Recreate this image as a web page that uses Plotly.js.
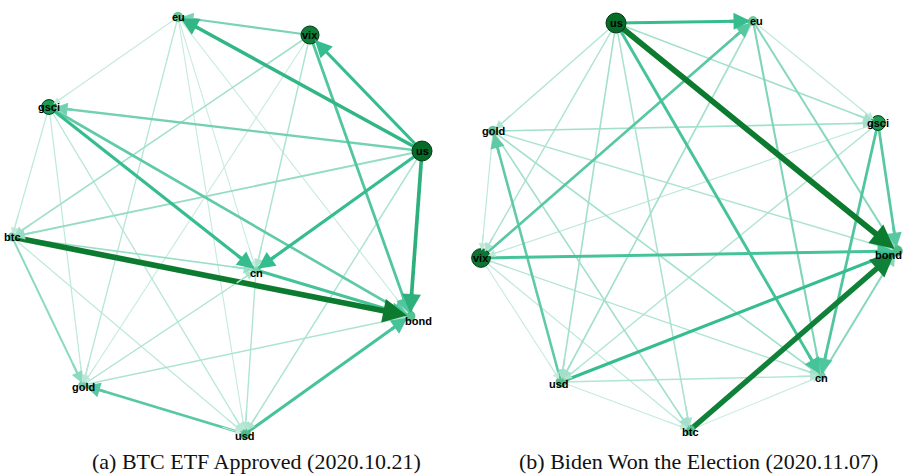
<!DOCTYPE html>
<html><head><meta charset="utf-8">
<script src="https://cdn.plot.ly/plotly-3.0.1.min.js"></script>
<style>html,body{margin:0;padding:0;background:#fff;}#chart{width:907px;height:476px;}</style>
</head><body><div id="chart"></div>
<script>
// ---------- data: graph (a) BTC ETF Approved ----------
const nodesA    = ['eu','vix','gsci','us','btc','cn','bond','gold','usd'];
const strengthA = [0.2, 0.85, 0.6, 1.0, 0.1, 0.1, 0.25, 0.12, 0.3];
const srcA = ['btc','us','us','us','us','gsci','vix','usd','cn','usd','gsci','us','vix','btc','btc','us','vix','vix','gold','gold','cn','us','gsci','gsci','gsci','eu','eu','eu','eu','btc','eu','vix','gold'];
const tgtA = ['bond','bond','eu','vix','cn','cn','bond','bond','bond','gold','bond','gsci','eu','gold','cn','btc','btc','cn','bond','cn','usd','usd','btc','gold','usd','gsci','gold','bond','usd','usd','cn','gold','usd'];
const wA   = [1.0,0.6,0.55,0.5,0.5,0.5,0.42,0.45,0.45,0.4,0.38,0.32,0.3,0.25,0.2,0.22,0.18,0.15,0.15,0.15,0.14,0.15,0.1,0.1,0.12,0.08,0.12,0.08,0.08,0.1,0.07,0.08,0.06];

// ---------- data: graph (b) Biden Won the Election ----------
const nodesB    = ['us','eu','gsci','gold','vix','bond','usd','cn','btc'];
const strengthB = [1.0, 0.15, 0.6, 0.2, 0.9, 0.3, 0.25, 0.12, 0.25];
const srcB = ['us','btc','us','us','vix','usd','vix','gsci','gsci','usd','eu','eu','cn','us','gold','gold','gold','gold','us','us','us','us','eu','eu','gsci','gsci','vix','vix','vix','gold','usd','usd','btc'];
const tgtB = ['bond','bond','eu','cn','bond','bond','eu','cn','bond','gold','cn','bond','bond','gsci','gsci','bond','cn','btc','gold','vix','usd','btc','usd','gsci','usd','vix','cn','usd','btc','vix','cn','btc','cn'];
const wB   = [1.0,0.95,0.5,0.45,0.45,0.5,0.4,0.42,0.4,0.38,0.28,0.26,0.26,0.18,0.18,0.15,0.18,0.18,0.14,0.15,0.18,0.16,0.18,0.1,0.14,0.1,0.14,0.08,0.1,0.1,0.14,0.08,0.07];

const captionA = '(a) BTC ETF Approved (2020.10.21)';
const captionB = '(b) Biden Won the Election (2020.11.07)';

// ---------- layout positions (pixel-like coords, y downward) ----------
const posA = {eu:[178,17], vix:[310,35], gsci:[49,107], us:[422,151], btc:[12,237], cn:[256,270], bond:[410,316], gold:[83,385], usd:[245,434]};
const posB = {us:[616,23], eu:[753,21], gsci:[878,123], gold:[493,131], vix:[481,258], bond:[897,251], usd:[561,382], cn:[821,376], btc:[690,430]};
const labelShiftA = {bond:[8,-5], cn:[0,-3], gold:[0,-2], usd:[0,-2]};
const labelShiftB = {bond:[-9,-4], eu:[3,0], cn:[0,-2], btc:[0,-2], usd:[-2,-2]};

function lerp(a,b,t){return a+(b-a)*t;}
function hex(c){return [parseInt(c.slice(1,3),16),parseInt(c.slice(3,5),16),parseInt(c.slice(5,7),16)];}
function mix(c1,c2,t){const a=hex(c1),b=hex(c2);return 'rgb('+a.map((v,i)=>Math.round(lerp(v,b[i],t))).join(',')+')';}
function edgeColor(w){
  if(w<=0.5) return mix('#dff4ec','#36bd8f',w/0.5);
  return mix('#36bd8f','#0c7a2f',(w-0.5)/0.5);
}
function edgeWidth(w){return 0.7+5.0*w;}
function nodeColor(s){
  if(s<=0.5) return mix('#8edcbd','#1fa85e',s/0.5);
  return mix('#1fa85e','#066a28',(s-0.5)/0.5);
}
function nodeSize(s){return 7+13*s;}

const traces=[]; const arrowAnn=[]; const labelAnn=[];
function buildGraph(nodes,strength,src,tgt,w,pos,shift){
  const idx=w.map((_,i)=>i).sort((a,b)=>w[a]-w[b]);
  const radius={};
  nodes.forEach((n,i)=>radius[n]=nodeSize(strength[i])/2);
  idx.forEach(i=>{
    const s=pos[src[i]], t=pos[tgt[i]];
    const col=edgeColor(w[i]), wd=edgeWidth(w[i]);
    traces.push({type:'scatter',mode:'lines',x:[s[0],t[0]],y:[s[1],t[1]],
      line:{color:col,width:wd},hoverinfo:'skip',showlegend:false});
    const dx=t[0]-s[0], dy=t[1]-s[1], L=Math.hypot(dx,dy);
    const seg=Math.min(25,L*0.3);
    arrowAnn.push({x:t[0],y:t[1],ax:t[0]-dx/L*seg,ay:t[1]-dy/L*seg,
      xref:'x',yref:'y',axref:'x',ayref:'y',text:'',showarrow:true,
      arrowhead:2,arrowsize:Math.max(0.8,1.35-0.09*wd),arrowwidth:wd,arrowcolor:col,
      standoff:Math.max(radius[tgt[i]]-2,1)});
  });
  traces.push({type:'scatter',mode:'markers',
    x:nodes.map(n=>pos[n][0]),y:nodes.map(n=>pos[n][1]),
    marker:{size:strength.map(nodeSize),color:strength.map(nodeColor),opacity:1,
      line:{color:strength.map(s=>s>0.5?'#053a15':'rgba(60,150,110,0.4)'),width:1}},
    hoverinfo:'skip',showlegend:false,cliponaxis:false});
  nodes.forEach(n=>{
    const sh=shift[n]||[0,0];
    labelAnn.push({x:pos[n][0],y:pos[n][1],xref:'x',yref:'y',text:'<b>'+n+'</b>',
      showarrow:false,xshift:sh[0],yshift:sh[1],
      font:{family:'Liberation Sans, Arial',size:11,color:'#000'}});
  });
}
buildGraph(nodesA,strengthA,srcA,tgtA,wA,posA,labelShiftA);
buildGraph(nodesB,strengthB,srcB,tgtB,wB,posB,labelShiftB);

const captionAnn=[
  {x:256,y:461,xref:'x',yref:'y',text:captionA,showarrow:false,
   font:{family:'Liberation Serif, Times New Roman, serif',size:22,color:'#111'}},
  {x:698,y:461,xref:'x',yref:'y',text:captionB,showarrow:false,
   font:{family:'Liberation Serif, Times New Roman, serif',size:22,color:'#111'}}];

const layout={width:907,height:476,margin:{l:0,r:0,t:0,b:0},
  paper_bgcolor:'#fff',plot_bgcolor:'#fff',showlegend:false,
  xaxis:{range:[0,907],visible:false,fixedrange:true},
  yaxis:{range:[476,0],visible:false,fixedrange:true},
  annotations:arrowAnn.concat(labelAnn,captionAnn)};
Plotly.newPlot('chart',traces,layout,{displayModeBar:false,staticPlot:true});
</script></body></html>
